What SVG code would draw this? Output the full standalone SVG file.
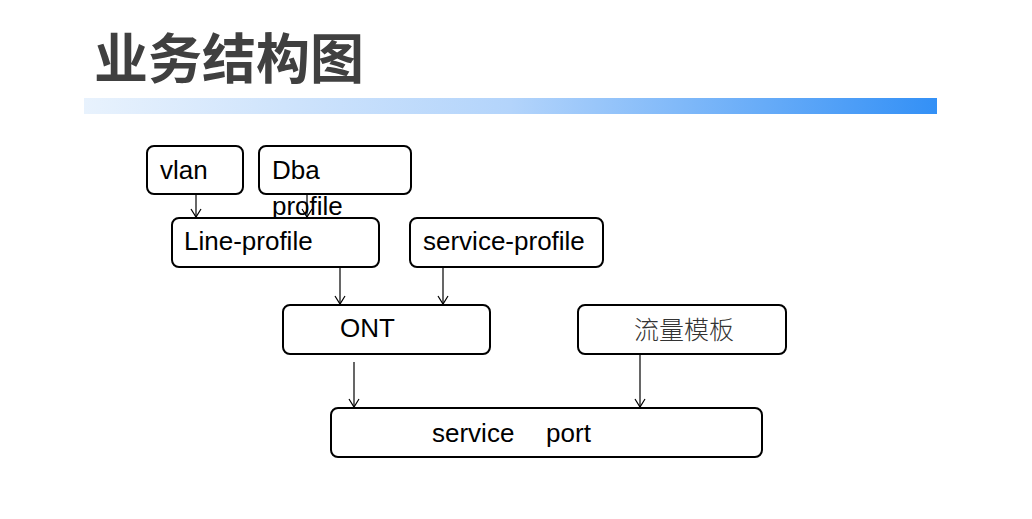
<svg xmlns="http://www.w3.org/2000/svg" width="1032" height="519" viewBox="0 0 1032 519">
<style>
.box{fill:#fff;stroke:#000;stroke-width:2}
.t{font-family:"Liberation Sans",Arial,"Noto Sans CJK SC",sans-serif;font-size:26px;fill:#000}
.cjk{font-family:"Noto Sans CJK SC",sans-serif;font-size:25px;font-weight:300;fill:#333}
.c{stroke:#000;stroke-width:1.2;fill:none;marker-end:url(#ah)}
</style>
<defs>
<linearGradient id="bar" x1="0" y1="0" x2="1" y2="0">
<stop offset="0" stop-color="#e8f2fd"/>
<stop offset="0.5" stop-color="#b3d4fb"/>
<stop offset="1" stop-color="#3390f6"/>
</linearGradient>
<marker id="ah" markerWidth="12" markerHeight="12" refX="9" refY="6" orient="auto" markerUnits="userSpaceOnUse" viewBox="0 0 12 12">
<path d="M1,1 L9,6 L1,11" fill="none" stroke="#000" stroke-width="1.2"/>
</marker>
</defs>
<rect width="1032" height="519" fill="#fff"/>
<g id="title">
<text x="94" y="79" style="font-family:'Noto Sans CJK SC',sans-serif;font-size:54px;font-weight:bold;fill:#404040">业务结构图</text>
<rect x="84" y="98" width="853" height="16" fill="url(#bar)"/>
</g>
<g id="connectors">
<line class="c" x1="196" y1="194" x2="196" y2="217"/>
<line class="c" x1="307" y1="194" x2="307" y2="217"/>
<line class="c" x1="340" y1="267" x2="340" y2="304"/>
<line class="c" x1="443" y1="267" x2="443" y2="304"/>
<line class="c" x1="354" y1="362" x2="354" y2="407"/>
<line class="c" x1="640" y1="354" x2="640" y2="407"/>
</g>
<g id="vlan">
<rect class="box" x="147" y="146" width="96" height="48" rx="7"/>
<text class="t" x="160" y="179">vlan</text>
</g>
<g id="dba">
<rect class="box" x="259" y="146" width="152" height="48" rx="7"/>
<text class="t" x="272" y="179">Dba</text>
<text class="t" x="272" y="215">profile</text>
</g>
<g id="line-profile">
<rect class="box" x="172" y="218" width="207" height="49" rx="7"/>
<text class="t" x="184" y="250">Line-profile</text>
</g>
<g id="service-profile">
<rect class="box" x="410" y="218" width="193" height="49" rx="7"/>
<text class="t" x="423" y="250">service-profile</text>
</g>
<g id="ont">
<rect class="box" x="283" y="305" width="207" height="49" rx="7"/>
<text class="t" x="340" y="337">ONT</text>
</g>
<g id="traffic">
<rect class="box" x="578" y="305" width="208" height="49" rx="7"/>
<text class="cjk" x="634" y="339">流量模板</text>
</g>
<g id="service-port">
<rect class="box" x="331" y="408" width="431" height="49" rx="7"/>
<text class="t" x="432" y="442" style="white-space:pre;word-spacing:0.7px">service    port</text>
</g>
</svg>
